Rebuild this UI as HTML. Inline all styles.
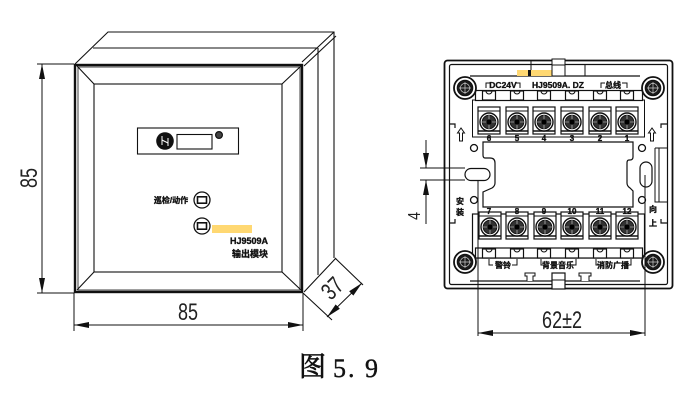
<!DOCTYPE html>
<html><head><meta charset="utf-8"><style>
html,body{margin:0;padding:0;background:#fff}
svg{display:block;filter:blur(.3px)}
text{font-family:"Liberation Sans","Noto Sans CJK SC",sans-serif;fill:#111}
.b{font-weight:bold;font-size:8px;text-anchor:middle;stroke:#111;stroke-width:.35px}
.d{font-size:24px;text-anchor:middle;fill:#222}
</style></head><body>
<svg width="700" height="400" viewBox="0 0 700 400" xmlns="http://www.w3.org/2000/svg">
<defs>
<marker id="a" markerUnits="userSpaceOnUse" markerWidth="16" markerHeight="8" refX="15" refY="3" orient="auto-start-reverse"><path d="M0 0L15 3L0 6Z" fill="#111"/></marker>
<g id="t">
<rect x="-11" y="-15" width="22" height="27" fill="#fff" stroke="#111" stroke-width="1.2"/>
<line x1="-11" y1="-11" x2="11" y2="-11" stroke="#111"/>
<line x1="-11" y1="9" x2="11" y2="9" stroke="#111" stroke-width="1.4"/>
<circle r="9" fill="#fff" stroke="#111" stroke-width="1.4"/>
<circle r="6.8" fill="#333" stroke="#111"/>
<path d="M-7 0H7M0-7V7" stroke="#ddd" stroke-width=".6"/>
<circle r="2.600" fill="#000"/>
</g>
<g id="c">
<rect x="-6.5" y="0" width="13" height="9" fill="#fff" stroke="#111" stroke-width="1.2"/>
<path d="M-3 0a3 3 0 0 0 6 0" fill="none" stroke="#111"/>
</g>
<g id="s">
<circle r="11" fill="#fff" stroke="#111" stroke-width="1.8"/>
<circle r="7.8" fill="#1a1a1a" stroke="#111"/>
<circle r="4.6" fill="none" stroke="#ccc" stroke-width=".7"/>
<path d="M-6 0H6M0-6V6" stroke="#ccc" stroke-width=".7"/>
</g>
<path id="u" d="M0-7L-3.5-2H-1.5V6H1.5V-2H3.5Z" fill="#fff" stroke="#111"/>
<g id="l"><circle r="8" fill="#fff" stroke="#111" stroke-width="1.3"/><rect x="-4.5" y="-3.2" width="9" height="6.4" fill="#fff" stroke="#111" stroke-width="1.6"/></g>
</defs>

<!-- Left: front view -->
<g fill="none" stroke="#111" stroke-width="1.1">
<path d="M75 64L108 32H334V258M93 48H317M318 48V275M302 62L334 32M304 66L336 36"/>
<path d="M304 292L336 258M303 293L332 320M335 258L363 285"/>
<rect x="75" y="65" width="227" height="227" stroke-width="2.4"/>
<rect x="78" y="67" width="222" height="223" stroke-width=".8"/>
<rect x="94" y="84" width="188" height="188"/>
<path d="M77 66L94 84M301 66L282 84M77 290L94 272M301 290L282 272"/>
<rect x="137.500" y="128" width="101" height="26"/>
<rect x="177" y="134.500" width="35" height="14.500"/>
</g>
<circle cx="165" cy="141" r="8.800" fill="#111"/>
<path d="M162 136V145M168 138V146M162 140L168 143" stroke="#fff" stroke-width="1" fill="none"/>
<circle cx="219" cy="135" r="3.400" fill="#444" stroke="#111" stroke-width="1.2"/>
<use href="#l" x="202" y="200"/>
<use href="#l" x="202" y="226"/>
<rect x="212" y="225" width="40" height="8" fill="#ffd872"/>
<text x="171" y="203" class="b">巡检/动作</text>
<text x="249" y="244" class="b" style="font-size:9px">HJ9509A</text>
<text x="250" y="257" class="b" style="font-size:9px">输出模块</text>

<!-- Left dimensions -->
<g fill="none" stroke="#111" stroke-width="1">
<path d="M37 64H74M37 293H74M74 293V331M303 293V331"/>
<line x1="42" y1="64" x2="42" y2="293" marker-start="url(#a)" marker-end="url(#a)"/>
<line x1="74" y1="325" x2="303" y2="325" marker-start="url(#a)" marker-end="url(#a)"/>
<line x1="362" y1="283" x2="327" y2="317" marker-start="url(#a)" marker-end="url(#a)"/>
</g>
<text class="d" transform="translate(37 178) rotate(-90) scale(.75 1)">85</text>
<text class="d" transform="translate(188 320) scale(.75 1)">85</text>
<text class="d" transform="translate(338 294) rotate(-45) scale(.75 1)">37</text>

<!-- Right: back view -->
<g fill="none" stroke="#111">
<rect x="444.500" y="60.500" width="228" height="228" rx="3" stroke-width="1.800"/>
<rect x="449.500" y="64.500" width="218" height="220" rx="2" stroke-width="1.200"/>
<path d="M470 76H640M470 281H640" stroke-width="1.200"/>
<path d="M449 124H455V128M667 124H661V128M449 223H455V219M667 223H661V219" stroke-width="1.200"/>
<path d="M655 148V202H667M659 148V202M655 148H667"/>
<path d="M483 142H633V157Q633 160 630 160H629Q627 160 627 163V183Q627 186 630 188L633 191V207H483V192L492 188Q495 186 495 183V163Q495 158 490 158H485Q483 158 483 155Z" stroke-width="1.200"/>
<circle cx="474" cy="148" r="3.500" stroke-width="1.300"/>
<circle cx="642" cy="148" r="3.500" stroke-width="1.300"/>
<circle cx="474" cy="200" r="3.500" stroke-width="1.300"/>
<circle cx="642" cy="200" r="3.500" stroke-width="1.300"/>
<rect x="465" y="168.500" width="25" height="12" rx="6" fill="#fff" stroke-width="1.200"/>
<rect x="640" y="162" width="12" height="25" rx="6" fill="#fff" stroke-width="1.200"/>
<rect x="472.500" y="100" width="172" height="37"/>
<rect x="472.500" y="214" width="172" height="44" stroke-width="1.200"/>
</g>

<!-- top/bottom notches -->
<rect x="517" y="70" width="35" height="6" fill="#ffd872"/>
<rect x="528" y="70" width="3" height="6" fill="#111"/>
<rect x="552" y="59" width="13" height="17" fill="#fff" stroke="#111"/>
<path d="M552 65H565M531 60V70M585 65V76" stroke="#111" fill="none"/>
<rect x="552" y="273" width="13" height="16" fill="#fff" stroke="#111" stroke-width="1.200"/>
<path d="M552 280H565M527 281V276H525V273H535V276H533V281M581 281V276H579V273H591V276H589V281" stroke="#111" fill="#fff"/>

<!-- terminal block top -->
<rect x="475.500" y="90.500" width="167" height="10" fill="#fff" stroke="#111" stroke-width="1.200"/>
<use href="#c" x="489" y="91"/><use href="#c" x="517" y="91"/><use href="#c" x="544" y="91"/><use href="#c" x="572" y="91"/><use href="#c" x="600" y="91"/><use href="#c" x="627" y="91"/>
<use href="#t" x="489" y="122"/><use href="#t" x="517" y="122"/><use href="#t" x="544" y="122"/><use href="#t" x="572" y="122"/><use href="#t" x="600" y="122"/><use href="#t" x="627" y="122"/>
<text class="b" x="489" y="141">6</text><text class="b" x="517" y="141">5</text><text class="b" x="544" y="141">4</text><text class="b" x="572" y="141">3</text><text class="b" x="600" y="141">2</text><text class="b" x="627" y="141">1</text>
<path d="M486 88V83H490M516 83H520V88M601 88V83H605M622 83H627V88" fill="none" stroke="#111"/>
<text class="b" x="503" y="88" style="font-size:8.500px">DC24V</text>
<text class="b" x="558" y="88" style="font-size:8.500px">HJ9509A. DZ</text>
<text class="b" x="613" y="88">总线</text>

<!-- terminal block bottom -->
<use href="#t" x="490" y="227"/><use href="#t" x="517" y="227"/><use href="#t" x="545" y="227"/><use href="#t" x="572" y="227"/><use href="#t" x="600" y="227"/><use href="#t" x="627" y="227"/>
<text class="b" x="489" y="214">7</text><text class="b" x="517" y="214">8</text><text class="b" x="544" y="214">9</text><text class="b" x="572" y="214">10</text><text class="b" x="600" y="214">11</text><text class="b" x="627" y="214">12</text>
<rect x="475.500" y="248" width="167" height="10" fill="#fff" stroke="#111" stroke-width="1.200"/>
<use href="#c" x="489" y="249"/><use href="#c" x="517" y="249"/><use href="#c" x="544" y="249"/><use href="#c" x="572" y="249"/><use href="#c" x="600" y="249"/><use href="#c" x="627" y="249"/>
<path d="M489 259V265H493M512 265H517V259M541 259V265H545M571 265H576V259M596 259V265H600M626 265H631V259" fill="none" stroke="#111"/>
<text class="b" x="503" y="268">警铃</text>
<text class="b" x="558" y="268">背景音乐</text>
<text class="b" x="613" y="268">消防广播</text>

<use href="#s" x="465" y="88"/><use href="#s" x="653" y="88"/><use href="#s" x="465" y="262"/><use href="#s" x="653" y="262"/>
<use href="#u" x="461" y="135"/><use href="#u" x="652" y="135"/>
<text class="b" x="460" y="204">安</text><text class="b" x="460" y="215">装</text>
<text class="b" x="653" y="212">向</text><text class="b" x="653" y="226">上</text>

<!-- Right dimensions -->
<g fill="none" stroke="#111" stroke-width="1">
<path d="M420 168H465M420 180H465M478 180V336M645 175V336"/>
<line x1="426" y1="140" x2="426" y2="168" marker-end="url(#a)"/>
<line x1="426" y1="224" x2="426" y2="180" marker-end="url(#a)"/>
<line x1="478" y1="333" x2="645" y2="333" marker-start="url(#a)" marker-end="url(#a)"/>
</g>
<text class="d" transform="translate(420 216) rotate(-90) scale(.8 1)" style="font-size:18px">4</text>
<text class="d" transform="translate(562 328) scale(.75 1)">62±2</text>

<text x="299" y="376" style="font-family:'Liberation Serif','Noto Serif CJK SC',serif;font-size:27px;stroke:#111;stroke-width:.7px">图</text>
<text x="333" y="377" style="font-family:'Liberation Serif','Noto Serif CJK SC',serif;font-size:26px;letter-spacing:2px;stroke:#111;stroke-width:.4px">5. 9</text>
</svg>
</body></html>
